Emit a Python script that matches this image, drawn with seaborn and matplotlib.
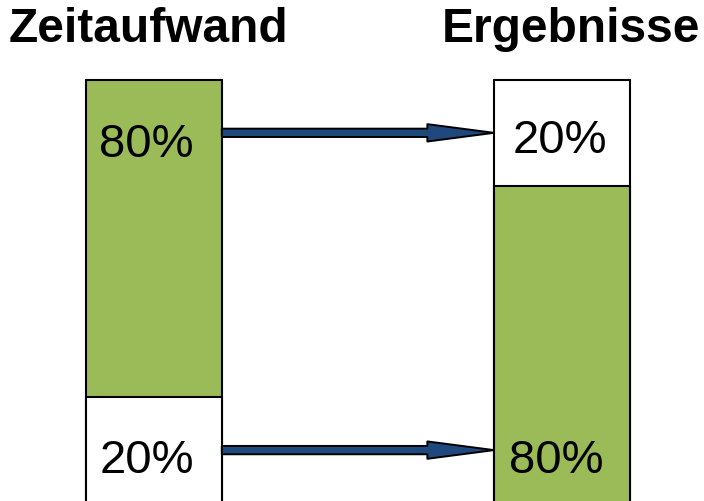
import matplotlib
matplotlib.use("Agg")
import matplotlib.pyplot as plt
import seaborn as sns
import pandas as pd

sns.set_theme(style="white")
plt.rcParams['font.family'] = ['Liberation Sans', 'DejaVu Sans']

# ---- data ----
categories = ["Zeitaufwand", "Ergebnisse"]
top_share = [80, 20]       # upper segment value (%)
bottom_share = [20, 80]    # lower segment value (%)
# drawn (not-to-scale) heights of the segments as shown in the infographic
drawn_bottom = [25, 75]
drawn_total = [100, 100]

GREEN = "#9BBB59"
WHITE = "#FFFFFF"
BLUE = "#1F497D"

top_colors = [GREEN, WHITE]
bottom_colors = [WHITE, GREEN]

df_total = pd.DataFrame({"cat": categories, "h": drawn_total})
df_bottom = pd.DataFrame({"cat": categories, "h": drawn_bottom})

fig = plt.figure(figsize=(7.04, 5.01), dpi=100)
ax = fig.add_axes([0, 0, 1, 1])

bar_w = 0.333
sns.barplot(data=df_total, x="cat", y="h", hue="cat", order=categories,
            hue_order=categories, palette=top_colors, width=bar_w, dodge=False,
            saturation=1, edgecolor="black", linewidth=1.5, legend=False, ax=ax)
sns.barplot(data=df_bottom, x="cat", y="h", hue="cat", order=categories,
            hue_order=categories, palette=bottom_colors, width=bar_w, dodge=False,
            saturation=1, edgecolor="black", linewidth=1.5, legend=False, ax=ax)

ax.set_xlim(-0.377, 1.348)
ax.set_ylim(0.47, 118.9)
ax.set_axis_off()

# titles
title_x = [-0.013, 1.022]
for xi, name in zip(title_x, categories):
    ax.text(xi, 108.9, name, ha="center", va="baseline", fontsize=34.5,
            fontweight="bold", color="black")

# percentage labels
top_lbl_x = [-0.018, 0.995]
top_lbl_y = [81.8, 82.7]
bot_lbl_x = [-0.018, 0.987]
for i in range(len(categories)):
    ax.text(top_lbl_x[i], top_lbl_y[i], f"{top_share[i]}%", ha="center",
            va="baseline", fontsize=34, color="black")
    ax.text(bot_lbl_x[i], 7.1, f"{bottom_share[i]}%", ha="center",
            va="baseline", fontsize=34, color="black")

# arrows between bars (from right edge of left bar to left edge of right bar)
x0 = 0 + bar_w / 2
x1 = 1 - bar_w / 2
arrow_y = [drawn_total[1] - (drawn_total[1] - drawn_bottom[1]) / 2,
           drawn_bottom[0] / 2]
for yy in arrow_y:
    ax.annotate("", xy=(x1, yy), xytext=(x0, yy),
                arrowprops=dict(arrowstyle="simple,head_length=48,head_width=12.5,tail_width=6",
                                fc=BLUE, ec="black", lw=1.4, shrinkA=0, shrinkB=0,
                                mutation_scale=1))

fig.savefig("out.png", dpi=100)
